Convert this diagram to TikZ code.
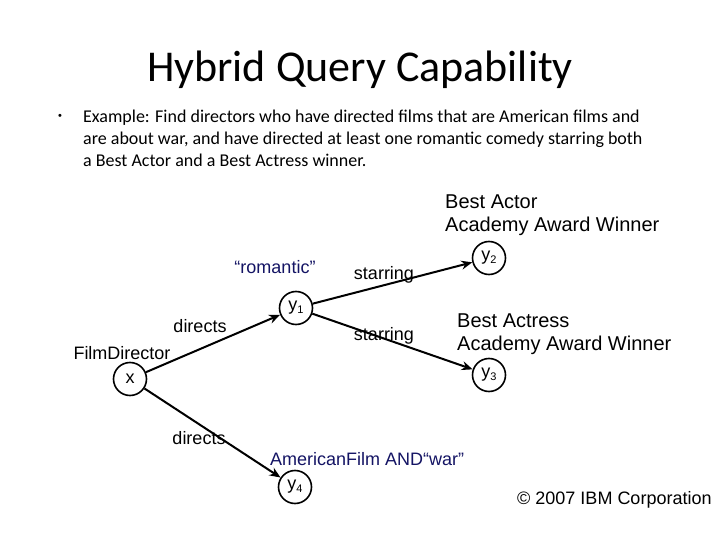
\documentclass[tikz,border=0pt]{standalone}
\usepackage{fontspec}
\setmainfont{Liberation Sans}
\newfontfamily\calibri{Carlito}
\usetikzlibrary{arrows.meta}
\definecolor{navyblue}{RGB}{20,20,100}
\tikzset{
  var/.style={draw, circle, line width=1.6pt, minimum size=33pt, inner sep=0pt, font=\fontsize{18}{18}\selectfont},
  lbl/.style={font=\fontsize{18}{20}\selectfont, inner sep=0pt},
  biglbl/.style={font=\fontsize{20}{24}\selectfont, inner sep=0pt, anchor=west},
  edge/.style={line width=2pt, -{Stealth[length=11pt,width=9pt]}},
  body/.style={font=\calibri\fontsize{18}{22}\selectfont, inner sep=0pt, anchor=base west}
}
\newcommand{\sbs}[1]{{\fontsize{11}{11}\selectfont\raisebox{-3pt}{#1}}}
\begin{document}
\begin{tikzpicture}[x=1pt,y=-1pt]
\useasboundingbox[fill=white] (0,0) rectangle (720,540);
% title
\node[font=\calibri\fontsize{44}{48}\selectfont, anchor=base, inner sep=0pt] (title) at (360,82) {Hybrid Query Capability};
\node[font=\fontsize{11}{11}\selectfont, inner sep=0pt] (bullet) at (60,117) {•};
\node[body] (l1) at (83,123) {Example: Find directors who have directed films that are American films and};
\node[body] (l2) at (83,145) {are about war, and have directed at least one romantic comedy starring both};
\node[body] (l3) at (83,167) {a Best Actor and a Best Actress winner.};
% variables
\node[var] (x) at (130,379) {x};
\node[var] (y1) at (296,308) {y\sbs{1}};
\node[var] (y2) at (489,258) {y\sbs{2}};
\node[var] (y3) at (489,375) {y\sbs{3}};
\node[var] (y4) at (295,487) {y\sbs{4}};
% edges
\draw[edge] (x) -- (y1);
\draw[edge] (x) -- (y4);
\draw[edge] (y1) -- (y2);
\draw[edge] (y1) -- (y3);
% labels
\node[lbl] (fd) at (122,353) {FilmDirector};
\node[lbl] (d1) at (200,326) {directs};
\node[lbl] (d2) at (199,438) {directs};
\node[lbl] (s1) at (384,275) {starring};
\node[lbl] (s2) at (384,336) {starring};
\node[lbl, text=navyblue] (rom) at (275,267) {“romantic”};
\node[lbl, text=navyblue, anchor=west] (amw) at (270,459) {AmericanFilm AND“war”};
\node[biglbl] (ba1) at (445,202) {Best Actor};
\node[biglbl] (ba2) at (445,226) {Academy Award Winner};
\node[biglbl] (bs1) at (457,321) {Best Actress};
\node[biglbl] (bs2) at (457,345) {Academy Award Winner};
\node[lbl, anchor=west] (copy) at (517,500) {© 2007 IBM Corporation};
\end{tikzpicture}
\end{document}
